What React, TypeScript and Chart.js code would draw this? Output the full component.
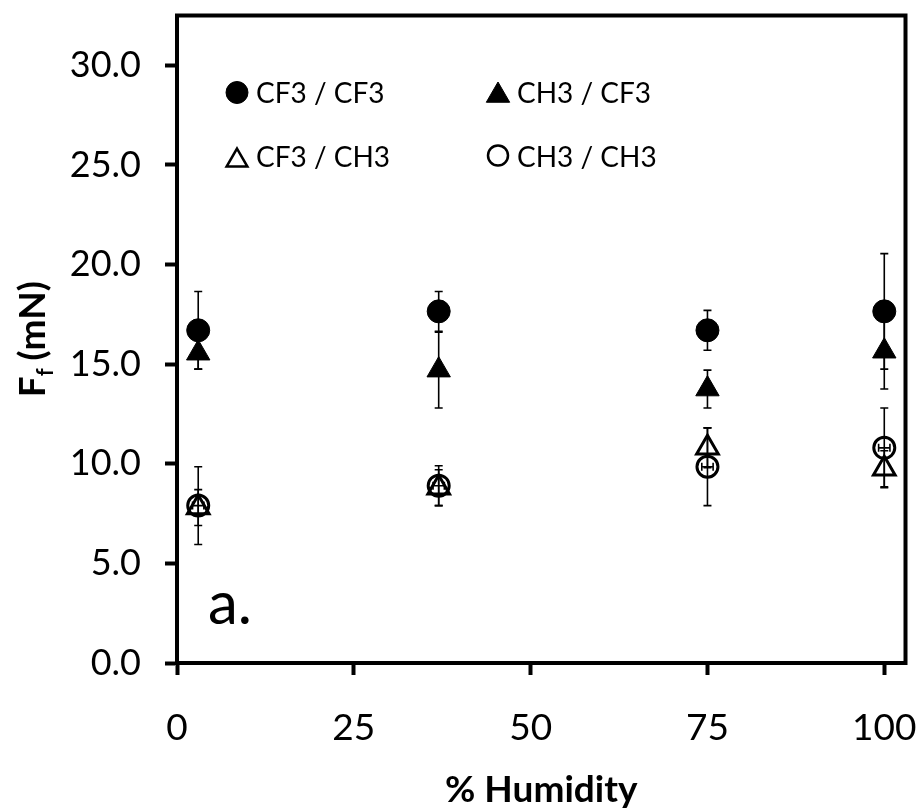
import React, { useEffect, useRef } from 'react';
import { Chart, registerables } from 'chart.js';

Chart.register(...registerables);

// ---- data ----
const humidity = [3, 37, 75, 100];
const cf3cf3 = [16.7, 17.65, 16.7, 17.65];
const cf3cf3Err = [1.95, 1.0, 1.0, 2.9];
const ch3cf3 = [15.55, 14.7, 13.75, 15.65];
const ch3cf3Err = [0.8, 1.9, 0.95, 1.9];
const cf3ch3 = [7.8, 8.8, 10.8, 9.75];
const cf3ch3Err = [0.9, 0.9, 1.0, 0.9];
const ch3ch3 = [7.9, 8.9, 9.85, 10.8];
const ch3ch3Err = [1.95, 1.0, 1.95, 2.0];
const ch3ch3XErr = [0.8, 0.8, 0.8, 0.8];
const seriesLabels = ['CF3 / CF3', 'CH3 / CF3', 'CF3 / CH3', 'CH3 / CH3'];
const xTitle = '% Humidity';
const yTitleMain = 'F';
const yTitleSub = 'f';
const yTitleUnit = '(mN)';
const panelLabel = 'a.';

const FONT = 'Lato, Carlito, "Open Sans", sans-serif';

function drawMarker(ctx: CanvasRenderingContext2D, style: string, x: number, y: number, r: number, filled: boolean, lw: number) {
  ctx.save();
  ctx.beginPath();
  if (style === 'circle') {
    ctx.arc(x, y, r, 0, Math.PI * 2);
  } else {
    ctx.moveTo(x, y - r);
    ctx.lineTo(x + r * Math.sin((2 * Math.PI) / 3), y - r * Math.cos((2 * Math.PI) / 3));
    ctx.lineTo(x + r * Math.sin((4 * Math.PI) / 3), y - r * Math.cos((4 * Math.PI) / 3));
    ctx.closePath();
  }
  ctx.strokeStyle = '#000';
  ctx.lineWidth = lw;
  if (filled) {
    ctx.fillStyle = '#000';
    ctx.fill();
  }
  ctx.stroke();
  ctx.restore();
}

const overlayPlugin = {
  id: 'overlay',
  beforeDatasetsDraw(chart: any) {
    const ctx = chart.ctx as CanvasRenderingContext2D;
    const xs = chart.scales.x;
    const ys = chart.scales.y;
    ctx.save();
    ctx.strokeStyle = '#000';
    ctx.lineWidth = 1.6;
    const cap = 4;
    chart.data.datasets.forEach((ds: any) => {
      ds.data.forEach((p: any, i: number) => {
        const px = xs.getPixelForValue(p.x);
        const py = ys.getPixelForValue(p.y);
        if (ds.yErr) {
          const e = ds.yErr[i];
          const t = ys.getPixelForValue(p.y + e);
          const b = ys.getPixelForValue(p.y - e);
          ctx.beginPath();
          ctx.moveTo(px, t); ctx.lineTo(px, b);
          ctx.moveTo(px - cap, t); ctx.lineTo(px + cap, t);
          ctx.moveTo(px - cap, b); ctx.lineTo(px + cap, b);
          ctx.stroke();
        }
        if (ds.xErr) {
          const e = ds.xErr[i];
          const l = xs.getPixelForValue(p.x - e);
          const r = xs.getPixelForValue(p.x + e);
          ctx.beginPath();
          ctx.moveTo(l, py); ctx.lineTo(r, py);
          ctx.moveTo(l, py - cap); ctx.lineTo(l, py + cap);
          ctx.moveTo(r, py - cap); ctx.lineTo(r, py + cap);
          ctx.stroke();
        }
      });
    });
    ctx.restore();
  },
  afterDraw(chart: any) {
    const ctx = chart.ctx as CanvasRenderingContext2D;
    const { left, right, top, bottom } = chart.chartArea;
    ctx.save();
    // frame
    ctx.strokeStyle = '#000';
    ctx.lineWidth = 4;
    ctx.strokeRect(left, top, right - left, bottom - top);

    // legend
    ctx.fillStyle = '#000';
    ctx.font = `28px ${FONT}`;
    ctx.textBaseline = 'alphabetic';
    ctx.textAlign = 'left';
    const col1M = left + 60, col1T = left + 79;
    const col2M = left + 321, col2T = left + 340;
    const row1 = top + 87, row2 = top + 151;
    drawMarker(ctx, 'circle', col1M, top + 77, 11, true, 1);
    ctx.fillText(seriesLabels[0], col1T, row1);
    drawMarker(ctx, 'triangle', col2M, top + 80, 13.5, true, 1);
    ctx.fillText(seriesLabels[1], col2T, row1);
    drawMarker(ctx, 'triangle', col1M, top + 145, 12, false, 2.5);
    ctx.fillText(seriesLabels[2], col1T, row2);
    drawMarker(ctx, 'circle', col2M, top + 140, 10, false, 2.5);
    ctx.fillText(seriesLabels[3], col2T, row2);

    // panel label
    ctx.font = `60px ${FONT}`;
    ctx.fillText(panelLabel, left + 31, bottom - 39);

    // x title
    ctx.font = `bold 37px ${FONT}`;
    ctx.textAlign = 'center';
    ctx.textBaseline = 'middle';
    ctx.fillText(xTitle, (left + right) / 2, 790);

    // y title
    ctx.translate(33, (top + bottom) / 2);
    ctx.rotate(-Math.PI / 2);
    ctx.textAlign = 'left';
    ctx.textBaseline = 'alphabetic';
    const big = `bold 37px ${FONT}`;
    const small = `bold 22px ${FONT}`;
    ctx.font = big;
    const wF = ctx.measureText(yTitleMain).width;
    const wU = ctx.measureText(yTitleUnit).width;
    ctx.font = small;
    const wf = ctx.measureText(yTitleSub).width;
    const gap = 8;
    const total = wF + wf + gap + wU;
    let sx = -total / 2;
    ctx.font = big;
    ctx.fillText(yTitleMain, sx, 12);
    sx += wF;
    ctx.font = small;
    ctx.fillText(yTitleSub, sx, 20);
    sx += wf + gap;
    ctx.font = big;
    ctx.fillText(yTitleUnit, sx, 12);
    ctx.restore();
  },
};

export default function App() {
  const ref = useRef<HTMLCanvasElement | null>(null);
  useEffect(() => {
    if (!ref.current) return;
    const mk = (ys: number[]) => humidity.map((x, i) => ({ x, y: ys[i] }));
    const chart = new Chart(ref.current, {
      type: 'scatter',
      data: {
        datasets: [
          {
            label: seriesLabels[0], data: mk(cf3cf3), yErr: cf3cf3Err,
            pointStyle: 'circle', pointRadius: 11.5, pointBackgroundColor: '#000', pointBorderColor: '#000', pointBorderWidth: 1,
          } as any,
          {
            label: seriesLabels[1], data: mk(ch3cf3), yErr: ch3cf3Err,
            pointStyle: 'triangle', pointRadius: 13.5, pointBackgroundColor: '#000', pointBorderColor: '#000', pointBorderWidth: 1,
          } as any,
          {
            label: seriesLabels[2], data: mk(cf3ch3), yErr: cf3ch3Err,
            pointStyle: 'triangle', pointRadius: 12.5, pointBackgroundColor: 'rgba(0,0,0,0)', pointBorderColor: '#000', pointBorderWidth: 3,
          } as any,
          {
            label: seriesLabels[3], data: mk(ch3ch3), yErr: ch3ch3Err, xErr: ch3ch3XErr,
            pointStyle: 'circle', pointRadius: 10.5, pointBackgroundColor: 'rgba(0,0,0,0)', pointBorderColor: '#000', pointBorderWidth: 3,
          } as any,
        ],
      },
      options: {
        responsive: false,
        animation: false,
        layout: { padding: { top: 14, right: 13, left: 0, bottom: 0 } },
        plugins: { legend: { display: false }, tooltip: { enabled: false } },
        scales: {
          x: {
            type: 'linear', min: 0, max: 103,
            ticks: { stepSize: 25, includeBounds: false, color: '#000', font: { family: FONT, size: 37 }, padding: 31, maxRotation: 0 },
            grid: { display: true, drawOnChartArea: false, drawTicks: true, tickLength: 12, tickWidth: 4, tickColor: '#000' },
            border: { display: true, width: 4, color: '#000' },
            afterFit: (s: any) => { s.height = 145; s.paddingLeft = 0; s.paddingRight = 0; },
          },
          y: {
            type: 'linear', min: 0, max: 32.5,
            ticks: { stepSize: 5, includeBounds: false, color: '#000', font: { family: FONT, size: 36 }, padding: 24, callback: (v: any) => Number(v).toFixed(1) },
            grid: { display: true, drawOnChartArea: false, drawTicks: true, tickLength: 12, tickWidth: 4, tickColor: '#000' },
            border: { display: true, width: 4, color: '#000' },
            afterFit: (s: any) => { s.width = 177; s.paddingTop = 0; s.paddingBottom = 0; },
          },
        },
      } as any,
      plugins: [overlayPlugin],
    });
    return () => chart.destroy();
  }, []);
  return (
    <div style={{ position: 'fixed', left: 0, top: 0, width: 921, height: 808, background: '#fff' }}>
      <canvas ref={ref} width={921} height={808} style={{ display: 'block' }} />
    </div>
  );
}
